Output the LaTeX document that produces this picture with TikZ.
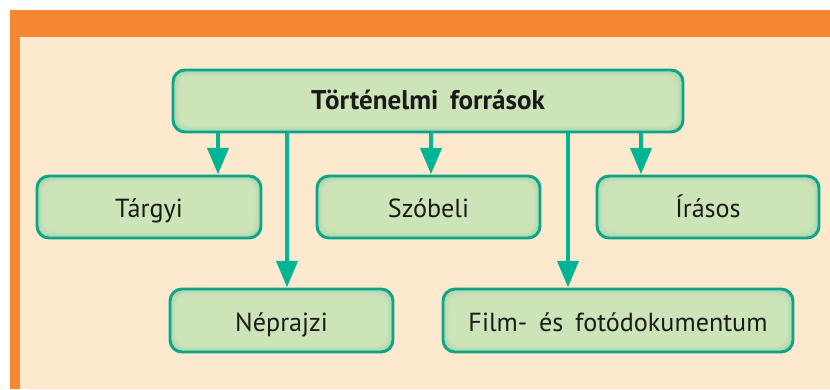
\documentclass[tikz,border=0pt]{standalone}
\usepackage{fontspec}
\setmainfont[WordSpace=1.7]{PT Sans}
\usetikzlibrary{arrows.meta}
\definecolor{orng}{HTML}{F58634}
\definecolor{cream}{HTML}{FDE9CD}
\definecolor{fillc}{HTML}{CDE4B8}
\definecolor{edgec}{HTML}{A6D5AC}
\definecolor{bord}{HTML}{0DA58A}
\definecolor{arrc}{HTML}{00B496}
\definecolor{txt}{HTML}{1A1A1A}
\tikzset{
  box/.style={rounded corners=9pt, draw=bord, line width=2.2pt, fill=edgec,
    minimum height=62*0.75pt, text=txt, inner sep=0pt,
    text height=16.5pt, text depth=0.5pt,
    font=\fontsize{19.6pt}{23pt}\selectfont,
    path picture={
      \foreach \i in {1,...,9}{
        \pgfmathtruncatemacro\p{min(100,\i*12)}
        \fill[fillc!\p!edgec, rounded corners=8pt]
          ([shift={(\i*0.55pt,\i*0.55pt)}]path picture bounding box.south west)
          rectangle
          ([shift={(-\i*0.55pt,-\i*0.55pt)}]path picture bounding box.north east);
      }
    }},
  titlebox/.style={box, text height=13pt, text depth=1pt,
    font=\fontsize{20.3pt}{24pt}\selectfont\bfseries},
  arr/.style={draw=arrc, line width=3.7pt, -{Triangle[length=20pt,width=15.5pt]}}
}
\begin{document}
\begin{tikzpicture}[x=0.75pt,y=-0.75pt]
\useasboundingbox (0,0) rectangle (830,389);
\fill[white] (0,0) rectangle (830,389);
\fill[orng] (10,10) rectangle (830,389);
\fill[cream] (20,37) rectangle (830,389);

\node[titlebox, minimum width=510*0.75pt] (main) at (428,101) {Történelmi források};
\node[box, minimum width=224*0.75pt] (targy) at (149,207) {Tárgyi};
\node[box, minimum width=223*0.75pt] (szob) at (428.5,207) {Szóbeli};
\node[box, minimum width=222*0.75pt] (iras) at (708,207) {Írásos};
\node[box, minimum width=223*0.75pt, minimum height=63*0.75pt] (nepr) at (281.5,320.5) {Néprajzi};
\node[box, minimum width=350*0.75pt, minimum height=63*0.75pt] (film) at (618,320.5) {Film- és fotódokumentum};

\coordinate (xa) at (218,0);
\coordinate (xb) at (287,0);
\coordinate (xc) at (431,0);
\coordinate (xd) at (568,0);
\coordinate (xe) at (641,0);

\draw[arr] (main.south -| xa) -- (targy.north -| xa);
\draw[arr] (main.south -| xb) -- (nepr.north -| xb);
\draw[arr] (main.south -| xc) -- (szob.north -| xc);
\draw[arr] (main.south -| xd) -- (film.north -| xd);
\draw[arr] (main.south -| xe) -- (iras.north -| xe);
\end{tikzpicture}
\end{document}
